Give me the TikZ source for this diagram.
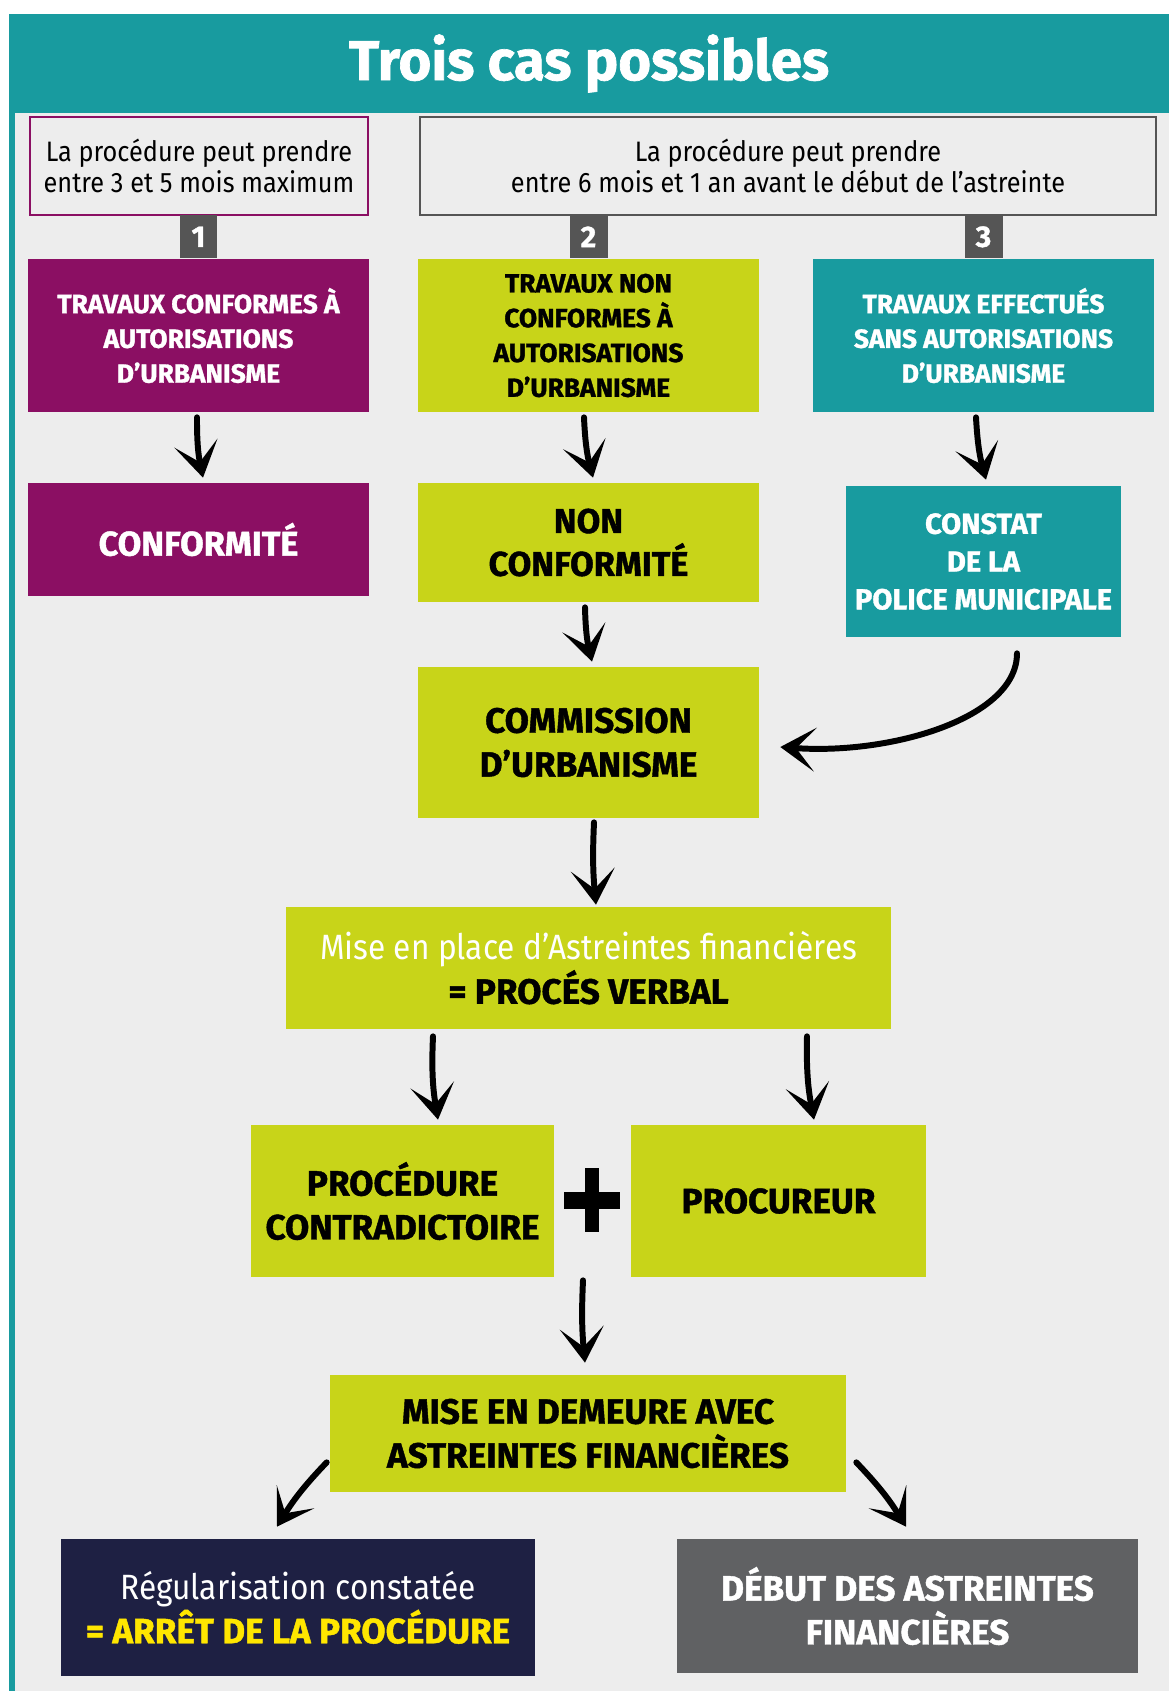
\documentclass[tikz,border=0pt]{standalone}
\usepackage{fontspec}
\setmainfont{Fira Sans}[BoldFeatures={FakeBold=1.2}]
\newfontfamily\etroit{Fira Sans}[FakeStretch=0.9]
\usepackage{tikz}
\usetikzlibrary{calc,arrows.meta,positioning}

\definecolor{turquoise}{RGB}{24,155,159}
\definecolor{prune}{RGB}{139,15,99}
\definecolor{anis}{RGB}{200,212,25}
\definecolor{marine}{RGB}{30,32,67}
\definecolor{ardoise}{RGB}{96,97,99}
\definecolor{carre}{RGB}{85,85,85}
\definecolor{fond}{RGB}{237,237,237}
\definecolor{jaune}{RGB}{255,230,0}

\begin{document}
\begin{tikzpicture}[x=0.02cm,y=-0.02cm,
    etape/.style={inner sep=0pt, align=center, font=\bfseries\fontsize{20}{25}\selectfont},
    cas/.style={etape, minimum width=6.82cm, minimum height=3.06cm, font=\bfseries\fontsize{15}{19.8}\selectfont},
    delai/.style={draw, line width=1.1pt, fill=fond, inner sep=0pt, align=center, minimum height=1.96cm, font=\etroit\fontsize{16}{17.5}\selectfont},
    numero/.style={fill=carre, text=white, inner sep=0pt, minimum width=0.76cm, minimum height=0.86cm, font=\bfseries\fontsize{17}{17}\selectfont},
    fleche/.style={line width=3.4pt, line cap=round, -{Stealth[length=20pt,width=25pt,inset=11pt]}}]

    \useasboundingbox (0,0) rectangle (1169,1691);
    \fill[white] (0,0) rectangle (1169,1691);
    \fill[fond] (9,113) rectangle (1169,1691);
    \fill[turquoise] (9,14) rectangle (15,1691);

    \node (titre) at (589,63.5)[fill=turquoise, text=white, inner sep=0pt, minimum width=23.2cm, minimum height=1.98cm, font=\bfseries\fontsize{32}{32}\selectfont] {\raisebox{-6pt}{Trois cas possibles}};

    % durees
    \node (delai1) at (199,166)[delai, draw=prune, minimum width=6.76cm] {La procédure peut prendre\\entre 3 et 5 mois maximum};
    \node (delai2) at (788,166)[delai, draw=carre, minimum width=14.72cm] {La procédure peut prendre\\entre 6 mois et 1 an avant le début de l’astreinte};

    % les trois cas
    \node (cas1) at (198.5,335.5)[cas, fill=prune, text=white] {TRAVAUX CONFORMES À\\AUTORISATIONS\\D’URBANISME};
    \node (cas2) at (588.5,335.5)[cas, fill=anis] {TRAVAUX NON\\CONFORMES À\\AUTORISATIONS\\D’URBANISME};
    \node (cas3) at (983.5,335.5)[cas, fill=turquoise, text=white] {TRAVAUX EFFECTUÉS\\SANS AUTORISATIONS\\D’URBANISME};

    \node (num1)[numero, above=0pt of cas1] {1};
    \node (num2)[numero, above=0pt of cas2] {2};
    \node (num3)[numero, above=0pt of cas3] {3};

    \node (conf) at (198.5,539.5)[etape, fill=prune, text=white, minimum width=6.82cm, minimum height=2.26cm, font=\bfseries\fontsize{19.5}{24}\selectfont] {CONFORMITÉ};
    \node (nonconf) at (588.5,542.5)[etape, fill=anis, minimum width=6.82cm, minimum height=2.38cm, font=\bfseries\fontsize{19.5}{24.4}\selectfont] {NON\\CONFORMITÉ};
    \node (constat) at (983.5,561.5)[etape, fill=turquoise, text=white, minimum width=5.5cm, minimum height=3.02cm, font=\bfseries\fontsize{16.5}{21.5}\selectfont] {CONSTAT\\DE LA\\POLICE MUNICIPALE};
    \node (commission) at (588.5,742.5)[etape, fill=anis, minimum width=6.82cm, minimum height=3.02cm] {COMMISSION\\D’URBANISME};

    \node (miseplace) at (588.5,968)[etape, fill=anis, minimum width=12.1cm, minimum height=2.44cm] {{\etroit\mdseries\color{white}Mise en place d’Astreintes financières}\\= PROCÉS VERBAL};
    \node (contra) at (402.5,1201)[etape, fill=anis, minimum width=6.06cm, minimum height=3.04cm] {PROCÉDURE\\CONTRADICTOIRE};
    \node (procureur) at (778.5,1201)[etape, fill=anis, minimum width=5.9cm, minimum height=3.04cm] {PROCUREUR};
    \coordinate (plus) at (592,1200);
    \fill (585,1168) rectangle (599,1232);
    \fill (564,1192) rectangle (620,1209);

    \node (demeure) at (588,1433.5)[etape, fill=anis, minimum width=10.32cm, minimum height=2.34cm] {MISE EN DEMEURE AVEC\\ASTREINTES FINANCIÈRES};
    \node (regul) at (298,1607.5)[etape, fill=marine, text=white, minimum width=9.48cm, minimum height=2.74cm] {{\etroit\mdseries Régularisation constatée}\\{\color{jaune}= ARRÊT DE LA PROCÉDURE}};
    \node (debut) at (907.5,1606)[etape, fill=ardoise, text=white, minimum width=9.22cm, minimum height=2.68cm] {DÉBUT DES ASTREINTES\\FINANCIÈRES};

    % fleches
    \draw[fleche] ($(cas1.south)+(-1.5,5)$) to[bend right=6] ($(conf.north)+(4.5,-5)$);
    \draw[fleche] ($(cas2.south)+(-4.5,5)$) to[bend right=6] ($(nonconf.north)+(4.5,-5)$);
    \draw[fleche] ($(cas3.south)+(-7.5,5)$) to[bend right=6] ($(constat.north)+(2.5,-6)$);
    \draw[fleche] ($(nonconf.south)+(-3.5,5)$) to[bend right=6] ($(commission.north)+(3.5,-5)$);
    \draw[fleche] ($(constat.south)+(33.5,16)$) .. controls +(0,65) and +(110,8) .. ($(commission.east)+(21,4.5)$);
    \draw[fleche] ($(commission.south)+(5.5,4)$) to[bend right=4] ($(miseplace.north)+(7.5,-2)$);
    \draw[fleche] ($(contra.north |- miseplace.south)+(30.5,7)$) to[bend right=6] ($(contra.north)+(35.5,-5)$);
    \draw[fleche] ($(procureur.north |- miseplace.south)+(28.5,7)$) to[bend right=6] ($(procureur.north)+(35.5,-5)$);
    \draw[fleche] ($(plus |- contra.south)+(-9,3)$) to[bend right=4] ($(demeure.north)+(-3,-12)$);
    \draw[fleche] ($(demeure.south west)+(-3,-30)$) to[bend right=6] ($(regul.north)+(-21,-12)$);
    \draw[fleche] ($(demeure.south east)+(10,-30)$) to[bend left=6] ($(debut.north)+(-1.5,-12)$);

\end{tikzpicture}
\end{document}
